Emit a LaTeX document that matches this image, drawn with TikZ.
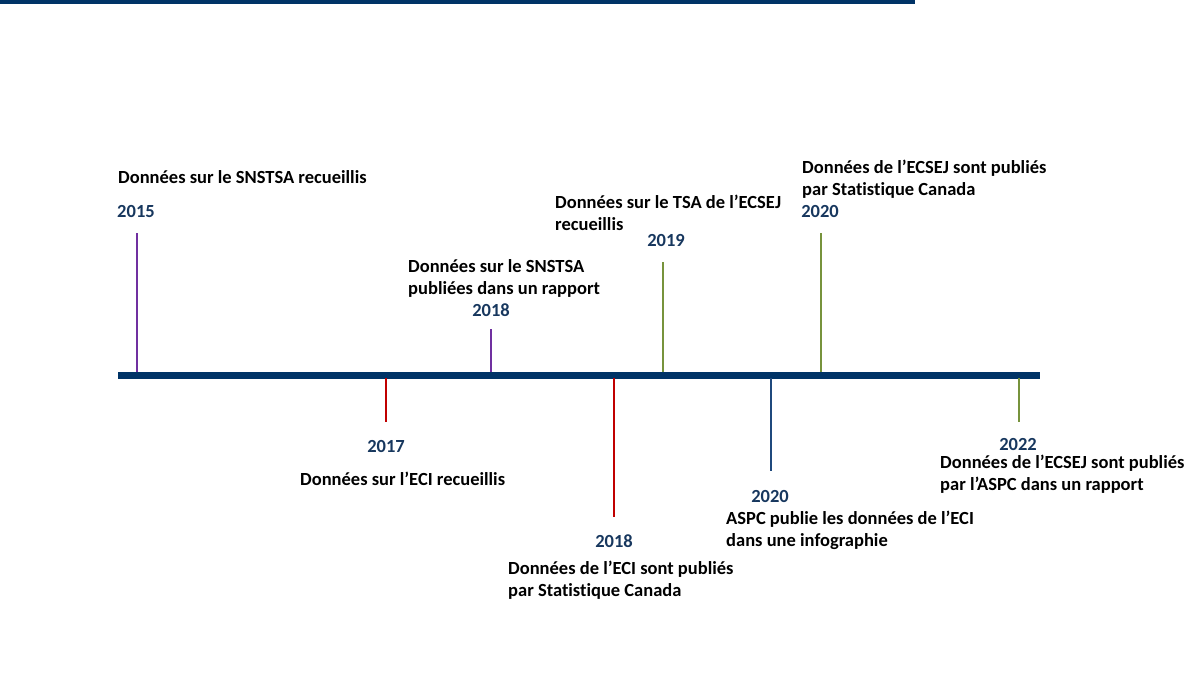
\documentclass[tikz,border=0pt]{standalone}
\usepackage{fontspec}
\setmainfont{Carlito}[Ligatures=NoCommon]
\usepackage{xcolor}
\definecolor{barblue}{RGB}{0,51,102}
\definecolor{yearblue}{RGB}{23,55,94}
\definecolor{tickpurple}{RGB}{112,48,160}
\definecolor{tickred}{RGB}{192,0,0}
\definecolor{tickgreen}{RGB}{119,147,60}
\definecolor{tickblue}{RGB}{31,73,125}
\usetikzlibrary{calc}

\tikzset{
  yearlbl/.style={font=\fontsize{18.5}{20}\selectfont\bfseries, text=yearblue, inner sep=0pt},
  evtlbl/.style={font=\fontsize{18.5}{22}\selectfont\bfseries, align=left, anchor=west, inner sep=0pt},
  tick/.style={line width=1.6pt}
}

\begin{document}
\begin{tikzpicture}[x=1pt, y=-1pt]
        \useasboundingbox (0,0) rectangle (1200,694);
        \fill[barblue] (0,0) rectangle (915,4);
        
        % timeline
        \coordinate (start) at (118,375);
        \coordinate (end) at (1040,375);
        \draw[barblue, line width=7pt] (start)--(end);
        
        % 2015
        \coordinate (a15) at (137,372);
        \coordinate (b15) at (137,233);
        \draw[tick, tickpurple] (a15)--(b15);
        \node[yearlbl] (y15) at (136,211) {2015};
        \node[evtlbl] (e15) at (118,177) {Données sur le SNSTSA recueillis};
        
        % 2017
        \coordinate (a17) at (386,378);
        \coordinate (b17) at (386,422);
        \draw[tick, tickred] (a17)--(b17);
        \node[yearlbl] (y17) at (386,446) {2017};
        \node[evtlbl] (e17) at (300,479) {Données sur l’ECI recueillis};
        
        % 2018, above
        \coordinate (a18) at (491,372);
        \coordinate (b18) at (491,329);
        \draw[tick, tickpurple] (a18)--(b18);
        \node[yearlbl] (y18) at (491,310) {2018};
        \node[evtlbl] (e18) at (408,278) {Données sur le SNSTSA\\publiées dans un rapport};
        
        % 2018, below
        \coordinate (c18) at (614,378);
        \coordinate (d18) at (614,517);
        \draw[tick, tickred] (c18)--(d18);
        \node[yearlbl] (z18) at (614,541) {2018};
        \node[evtlbl] (f18) at (508,580) {Données de l’ECI sont publiés\\par Statistique Canada};
        
        % 2019
        \coordinate (a19) at (663,372);
        \coordinate (b19) at (663,262);
        \draw[tick, tickgreen] (a19)--(b19);
        \node[yearlbl] (y19) at (666,240) {2019};
        \node[evtlbl] (e19) at (555,213) {Données sur le TSA de l’ECSEJ\\recueillis};
        
        % 2020, below
        \coordinate (a20) at (771,378);
        \coordinate (b20) at (771,471);
        \draw[tick, tickblue] (a20)--(b20);
        \node[yearlbl] (y20) at (770,496) {2020};
        \node[evtlbl] (e20) at (726,530) {ASPC publie les données de l’ECI\\dans une infographie};
        
        % 2020, above
        \coordinate (c20) at (821,372);
        \coordinate (d20) at (821,233);
        \draw[tick, tickgreen] (c20)--(d20);
        \node[yearlbl] (z20) at (820,211) {2020};
        \node[evtlbl] (f20) at (802,179) {Données de l’ECSEJ sont publiés\\par Statistique Canada};
        
        % 2022
        \coordinate (a22) at (1019,378);
        \coordinate (b22) at (1019,422);
        \draw[tick, tickgreen] (a22)--(b22);
        \node[yearlbl] (y22) at (1018,444) {2022};
        \node[evtlbl] (e22) at (940,474) {Données de l’ECSEJ sont publiés\\par l’ASPC dans un rapport};
    \end{tikzpicture}
\end{document}
